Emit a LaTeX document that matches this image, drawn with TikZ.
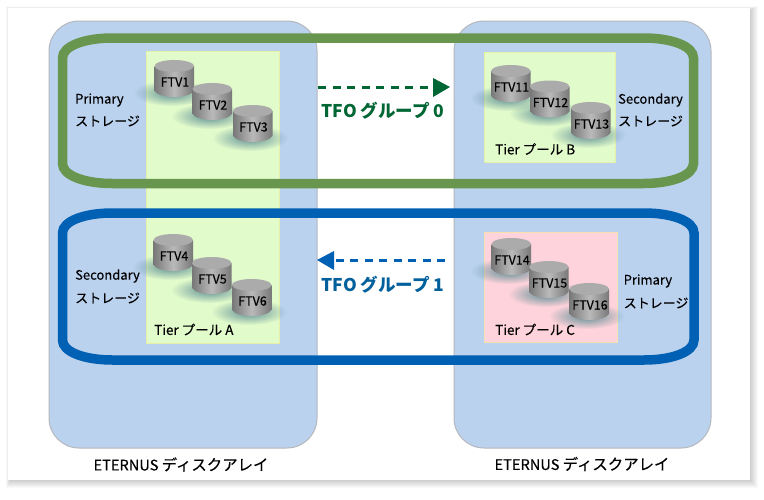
\documentclass[tikz,border=0pt]{standalone}
\usepackage{fontspec}
\setmainfont{Noto Sans CJK JP}
\newfontfamily\labfont[FakeBold=0.25]{Noto Sans CJK JP}
\usetikzlibrary{fadings,arrows.meta}
\definecolor{arrayfill}{HTML}{BBD2EE}
\definecolor{arrayline}{HTML}{B4B8BC}
\definecolor{poolgreen}{HTML}{E2FBCB}
\definecolor{poolline}{HTML}{E6F0A8}
\definecolor{poolpink}{HTML}{FFD3DB}
\definecolor{pinkline}{HTML}{F5E0B0}
\definecolor{greenband}{HTML}{68964F}
\definecolor{blueband}{HTML}{0060B4}
\definecolor{greenarrow}{HTML}{006633}
\definecolor{bluetext}{HTML}{00609C}
\definecolor{cylmid}{HTML}{BABABA}
\definecolor{cyledge}{HTML}{787878}
\definecolor{cyltop}{HTML}{ABABAB}
\definecolor{cylshadow}{HTML}{5F8F96}
\tikzfading[name=softshadow,inner color=transparent!0,outer color=transparent!100]
\tikzset{
  x=1pt,y=-1pt,
  arraybox/.style={draw=arrayline,fill=arrayfill,line width=1pt,rounded corners=30pt},
  label/.style={font=\labfont\fontsize{13}{15}\selectfont,text=black,inner sep=0pt,align=left},
  ftvlabel/.style={font=\labfont\fontsize{12.5}{14}\selectfont,text=black,inner sep=0pt},
  title/.style={font=\fontsize{17.5}{20}\bfseries\selectfont,inner sep=0pt},
  flow/.style={line width=3pt,dash pattern=on 8pt off 6.5pt},
  band/.style={line width=9.5pt},
}
\newcommand{\bandpath}[4]{% x0 y0 x1 y1
  (#1+50,#2) -- (#3-50,#2) .. controls (#3-22,#2) and (#3,#2+8) .. (#3,#2+20)
  -- (#3,#4-20) .. controls (#3,#4-8) and (#3-22,#4) .. (#3-50,#4)
  -- (#1+50,#4) .. controls (#1+22,#4) and (#1,#4-8) .. (#1,#4-20)
  -- (#1,#2+20) .. controls (#1,#2+8) and (#1+22,#2) .. (#1+50,#2) -- cycle}
\newcommand{\cyl}[4]{% name, left x, top y, label
  \fill[cylshadow,path fading=softshadow]
    (#2+17,#3+33) ellipse [x radius=38,y radius=13];
  \shade[left color=cyledge,right color=cyledge,middle color=cylmid]
    (#2,#3+6) -- (#2,#3+31) .. controls (#2+5,#3+39) and (#2+34.5,#3+39) .. (#2+39.5,#3+31)
    -- (#2+39.5,#3+6) -- cycle;
  \fill[cyltop] (#2+19.75,#3+6) ellipse [x radius=19.75,y radius=6];
  \node[ftvlabel] (#1) at (#2+20.5,#3+22) {#4};
}
\newcommand{\eter}{{\fontsize{14.6}{16}\selectfont ETERNUS }{\fontsize{15.4}{16}\selectfont ディスクアレイ}}
\begin{document}
\begin{tikzpicture}
\useasboundingbox (0,0) rectangle (764,499);
\fill[white] (0,0) rectangle (764,499);
% page shadow and sheet
\foreach \d in {8,7,6,5,4,3,2,1}
  \fill[black,opacity=.022] (10-\d/2,10-\d/2) rectangle (750+\d,480+\d);
\fill[white] (8,8) rectangle (750,480);
% arrays
\draw[arraybox] (49,21) rectangle (317,448);
\draw[arraybox] (454,21) rectangle (711,448);
% pools
\filldraw[fill=poolgreen,draw=poolline] (146,51) rectangle (279,343);
\filldraw[fill=poolgreen,draw=poolline] (484,52) rectangle (615,162);
\filldraw[fill=poolpink,draw=pinkline] (484,232) rectangle (617,342);
% cylinders
\cyl{f1}{154.5}{60}{FTV1}
\cyl{f2}{192.5}{83}{FTV2}
\cyl{f3}{233}{105}{FTV3}
\cyl{f4}{153.5}{234}{FTV4}
\cyl{f5}{192}{257}{FTV5}
\cyl{f6}{232}{279}{FTV6}
\cyl{f11}{491}{65}{FTV11}
\cyl{f12}{530}{80.5}{FTV12}
\cyl{f13}{571}{102}{FTV13}
\cyl{f14}{491.5}{238}{FTV14}
\cyl{f15}{529}{261}{FTV15}
\cyl{f16}{569.5}{283}{FTV16}
% bands
\draw[band,greenband] \bandpath{62.5}{38}{693.5}{183.5};
\draw[band,blueband] \bandpath{62.5}{213}{694}{360};
% labels
\node[label,anchor=west] (p0a) at (75,100) {Primary};
\node[label,anchor=west] (p0b) at (75,121) {ストレージ};
\node[label,anchor=west] (s0a) at (618,100) {Secondary};
\node[label,anchor=west] (s0b) at (618,121) {ストレージ};
\node[label,anchor=west] (s1a) at (75,276) {Secondary};
\node[label,anchor=west] (s1b) at (75,298) {ストレージ};
\node[label,anchor=west] (p1a) at (623.5,281) {Primary};
\node[label,anchor=west] (p1b) at (623.5,303) {ストレージ};
\node[label,anchor=west,font=\labfont\fontsize{13.5}{15}\selectfont] (ta) at (154,329.5) {Tier プール A};
\node[label,anchor=west,font=\labfont\fontsize{13.5}{15}\selectfont] (tb) at (495,149) {Tier プール B};
\node[label,anchor=west,font=\labfont\fontsize{13.5}{15}\selectfont] (tc) at (495,329.5) {Tier プール C};
\node[label,anchor=center] (ea) at (181,464.5) {\eter};
\node[label,anchor=center] (eb) at (582,464) {\eter};
\node[title,text=greenarrow] (t0) at (383,110.5) {TFO グループ 0};
\node[title,text=bluetext] (t1) at (383,284.5) {TFO グループ 1};
% flows
\coordinate (g0s) at (318,87);
\coordinate (g0e) at (436,87);
\coordinate (g1s) at (445,260);
\coordinate (g1e) at (333,260);
\draw[flow,greenarrow] (g0s) -- (g0e);
\fill[greenarrow] (433,78) -- (450,87) -- (433,97) -- cycle;
\draw[flow,blueband] (g1s) -- (g1e);
\fill[blueband] (334,251) -- (317,260) -- (334,270) -- cycle;
\end{tikzpicture}
\end{document}
